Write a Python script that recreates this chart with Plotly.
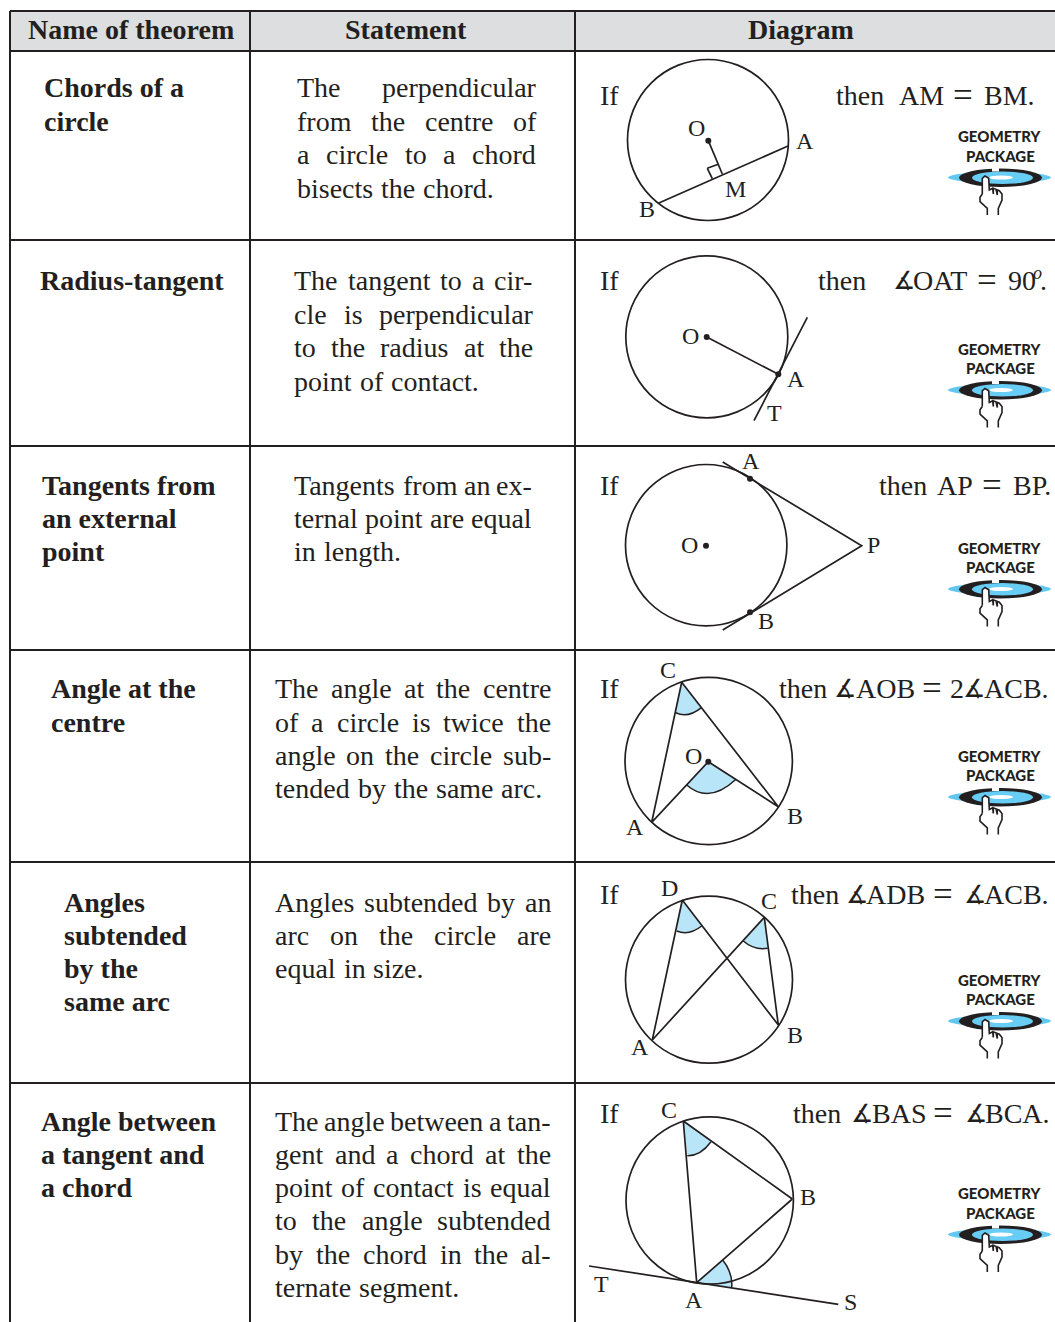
import plotly.graph_objects as go

INK = "#231f20"
SHADE = "#b9e5f8"
SERIF = "Liberation Serif"

# table text
HEADERS = ["Name of theorem", "Statement", "Diagram"]
HEADER_CENTRES = [131, 406, 801]
RULES_Y = [11, 51, 240, 446, 650, 862, 1083]
COLUMNS_X = [10, 250, 575]

NAMES = [
    ["Chords of a", "circle"],
    ["Radius-tangent"],
    ["Tangents from", "an external", "point"],
    ["Angle at the", "centre"],
    ["Angles", "subtended", "by the", "same arc"],
    ["Angle between", "a tangent and", "a chord"],
]
NAMES_X = [44, 40, 42, 51, 64, 41]
STATEMENTS = [
    ["The perpendicular", "from the centre of", "a circle to a chord", "bisects the chord."],
    ["The tangent to a cir-", "cle is perpendicular", "to the radius at the", "point of contact."],
    ["Tangents from an ex-", "ternal point are equal", "in length."],
    ["The angle at the centre", "of a circle is twice the", "angle on the circle sub-", "tended by the same arc."],
    ["Angles subtended by an", "arc on the circle are", "equal in size."],
    ["The angle between a tan-", "gent and a chord at the", "point of contact is equal",
     "to the angle subtended", "by the chord in the al-", "ternate segment."],
]
STATEMENTS_LEFT = [297, 294, 294, 275, 275, 275]
STATEMENTS_RIGHT = [536, 533, 532, 551, 551, 551]
LINES_Y = [
    [88, 122, 155, 189],
    [281, 315, 348, 382],
    [486, 519, 552],
    [689, 723, 756, 789],
    [903, 936, 969, 1002],
    [1122, 1155, 1188, 1221, 1255, 1288],
]
THEN_Y = [96, 281, 486, 689, 895, 1114]
THEN_WORDS = [
    ["then", "AM", "=", "BM."],
    ["then", "∡", "OAT", "=", "90", "."],
    ["then", "AP", "=", "BP."],
    ["then", "∡", "AOB", "=", "2", "∡", "ACB."],
    ["then", "∡", "ADB", "=", "∡", "ACB."],
    ["then", "∡", "BAS", "=", "∡", "BCA."],
]
THEN_X = [
    [836, 899, 953, 984],
    [818, 893, 913, 977, 1008, 1040],
    [879, 937, 982, 1013],
    [779, 834, 856, 922, 950, 963, 984],
    [791, 846, 866, 933, 964, 984],
    [793, 851, 872, 933, 965, 985],
]

# circles: centre x, centre y, radius
CIRCLES = [
    (708, 140, 80.5),
    (706.8, 336.8, 81),
    (706.2, 545.2, 80.7),
    (708.7, 761, 83.7),
    (709, 979.7, 83.5),
    (709.7, 1200.5, 83.7),
]

# straight segments of each diagram
SEGMENTS = [
    [(788, 146), (658.3, 203.3)],
    [(708.3, 140.7), (722.3, 174)],
    [(707.3, 168.3), (718.3, 164.3)],
    [(707.3, 168.3), (712.3, 178.7)],
    [(706.7, 337), (778.3, 374.3)],
    [(807.3, 317.3), (754, 420.7)],
    [(722.7, 462), (861.7, 545.7), (722.7, 630)],
    [(651.7, 822.3), (681.7, 682.3), (778.3, 806.7), (708.3, 761.7), (651.7, 822.3)],
    [(652.3, 1040), (682.3, 900), (778.3, 1025), (764.3, 917.3), (652.3, 1040)],
    [(792.3, 1199), (683.3, 1121), (696.7, 1282.7), (792.3, 1199)],
    [(589, 1266), (838.3, 1304.3)],
]
DOTS_X = [708.3, 706.7, 778.3, 706, 750, 750, 708.3]
DOTS_Y = [140.7, 337, 374.3, 545.7, 478.7, 612.3, 761.7]

# shaded angles: apex, start of arc, bend of arc, end of arc
ANGLES = [
    [(681.7, 682.3), (675.7, 712.7), (688, 718.6), (701.7, 707.3)],
    [(708.3, 761.7), (686.7, 785), (709, 804.6), (736, 779.3)],
    [(682.3, 900), (676.7, 931), (689, 936), (701.7, 926)],
    [(764.3, 917.3), (743.3, 941), (754.5, 950.7), (767.7, 948.3)],
    [(683.3, 1121), (687.3, 1155.7), (700.5, 1156), (711, 1141.7)],
    [(696.7, 1282.7), (722.7, 1260), (733, 1273), (731.7, 1287.3)],
]

LABELS = ["If", "O", "A", "M", "B",
          "If", "O", "A", "T",
          "If", "A", "B", "O", "P",
          "If", "C", "O", "A", "B",
          "If", "D", "C", "A", "B",
          "If", "C", "B", "T", "A", "S"]
LABELS_X = [609, 696, 805, 735, 647,
            609, 690, 796, 774,
            609, 751, 766, 689, 873,
            609, 668, 693, 635, 795,
            609, 669, 769, 640, 795,
            609, 669, 808, 601, 694, 850]
LABELS_Y = [96, 129, 142, 190, 210,
            281, 337, 380, 414,
            486, 462, 622, 546, 546,
            689, 671, 757, 828, 817,
            895, 889, 902, 1048, 1036,
            1114, 1111, 1198, 1285, 1301, 1303]

# "Geometry package" badge, one per row
BADGE_Y = [137, 349.5, 548.5, 756.5, 980.5, 1194]
HAND_X = [982.3, 982.3, 985, 988.7, 989.3, 992.7, 993.3, 993.3, 996, 997.3, 997.3, 999.3,
          1002, 1002, 998.3, 998.3, None, 987.3, 987.3, 980, 980, 982.3]
HAND_Y = [194, 178.3, 176, 178.3, 190, 188.3, 194, 188.3, 189.3, 195, 190, 190.7,
          194, 200, 208.3, 215, None, 215, 208.3, 201.7, 197.3, 194]

# Times advance widths, for spreading justified lines
TIMES = dict(a=444, b=500, c=444, d=500, e=444, f=333, g=500, h=500, i=278, j=278, k=500,
             l=278, m=778, n=500, o=500, p=500, q=500, r=333, s=389, t=278, u=500, v=500,
             w=722, x=500, y=500, z=444, T=611, A=722)
TIMES["-"] = 333
TIMES["."] = 250
BODY_SIZE = 28
LABEL_SIZE = 24


def word_width(word):
    return sum(TIMES[c] for c in word) * BODY_SIZE / 1000


def put_text(fig, x, y, text, size=BODY_SIZE, anchor="left", bold=False, family=SERIF, weight=None):
    font = dict(family=family, size=size, color=INK)
    if weight:
        font["weight"] = weight
    # rendered text sits about a pixel low, and a pixel right when left anchored
    fig.add_annotation(x=x - 1 if anchor == "left" else x, y=y - 1,
                       text=f"<b>{text}</b>" if bold else text, showarrow=False,
                       xanchor=anchor, yanchor="middle", borderpad=0, font=font)


def put_statement(fig, lines, ys, left, right):
    for i, (line, y) in enumerate(zip(lines, ys)):
        words = line.split(" ")
        widths = [word_width(w) for w in words]
        gap = (right - left - sum(widths)) / (len(words) - 1) if len(words) > 1 else 0
        # the last line of a paragraph is set ragged
        if i == len(lines) - 1:
            gap = min(gap, 8)
        x = left
        for word, width in zip(words, widths):
            put_text(fig, x, y, word)
            x += width + gap


def put_badge(fig, y):
    dy = y - BADGE_Y[0]
    put_text(fig, 1000, y, "GEOMETRY", size=15, anchor="center", family="Lato", weight=900)
    put_text(fig, 1000, y + 19.5, "PACKAGE", size=15, anchor="center", family="Lato", weight=900)
    fig.add_shape(type="circle", x0=948, x1=1051, y0=172 + dy, y1=183 + dy,
                  fillcolor="#62c8f0", line_width=0, layer="below")
    fig.add_shape(type="circle", x0=959, x1=1042, y0=168.5 + dy, y1=187 + dy,
                  fillcolor="#231f20", line_width=0, layer="below")
    fig.add_shape(type="circle", x0=972, x1=1033, y0=171.5 + dy, y1=184 + dy,
                  fillcolor="#68cdf5", line_width=0, layer="below")
    fig.add_shape(type="circle", x0=989, x1=1013, y0=175.5 + dy, y1=179.5 + dy,
                  fillcolor="white", line_width=0, layer="below")
    fig.add_shape(type="rect", x0=992, x1=999, y0=168 + dy, y1=171.5 + dy,
                  fillcolor="white", line_width=0, layer="below")
    hand_y = [v + dy if v is not None else None for v in HAND_Y]
    fig.add_trace(go.Scatter(x=HAND_X, y=hand_y, mode="lines", fill="toself", fillcolor="white",
                             line=dict(color=INK, width=1.6), hoverinfo="skip"))


fig = go.Figure()

# header band and rules
fig.add_shape(type="rect", x0=10, x1=1055, y0=RULES_Y[0], y1=RULES_Y[1],
              fillcolor="#dcdee0", line_width=0, layer="below")
for y in RULES_Y:
    fig.add_trace(go.Scatter(x=[10, 1055], y=[y, y], mode="lines",
                             line=dict(color=INK, width=2), hoverinfo="skip"))
for x in COLUMNS_X:
    fig.add_trace(go.Scatter(x=[x, x], y=[RULES_Y[0], 1322], mode="lines",
                             line=dict(color=INK, width=2), hoverinfo="skip"))

for text, x in zip(HEADERS, HEADER_CENTRES):
    put_text(fig, x, 30, text, size=28, anchor="center", bold=True)

for lines, x, ys in zip(NAMES, NAMES_X, LINES_Y):
    for line, y in zip(lines, ys):
        put_text(fig, x, y, line, bold=True)

for lines, ys, left, right in zip(STATEMENTS, LINES_Y, STATEMENTS_LEFT, STATEMENTS_RIGHT):
    put_statement(fig, lines, ys, left, right)

for words, xs, y in zip(THEN_WORDS, THEN_X, THEN_Y):
    for word, x in zip(words, xs):
        if word == "=":
            put_text(fig, x, y, word, size=35)
        elif word == "∡":
            put_text(fig, x, y, word, size=25, family="DejaVu Sans")
        else:
            put_text(fig, x, y, word)

# the raised italic o of 90 degrees
fig.add_annotation(x=1037, y=THEN_Y[1] - 8, text="<i>o</i>", showarrow=False, xanchor="center",
                   yanchor="middle", font=dict(family=SERIF, size=18, color=INK))

# shaded angles go under the lines
for apex, start, bend, end in ANGLES:
    arc = f"M {start[0]} {start[1]} Q {bend[0]} {bend[1]} {end[0]} {end[1]}"
    fig.add_shape(type="path", path=f"M {apex[0]} {apex[1]} L {arc[2:]} Z",
                  fillcolor=SHADE, line_width=0, layer="below")
    fig.add_shape(type="path", path=arc, line=dict(color=INK, width=1.5), layer="below")

for cx, cy, r in CIRCLES:
    fig.add_shape(type="circle", x0=cx - r, x1=cx + r, y0=cy - r, y1=cy + r,
                  line=dict(color=INK, width=1.7), layer="below")

for seg in SEGMENTS:
    fig.add_trace(go.Scatter(x=[p[0] for p in seg], y=[p[1] for p in seg], mode="lines",
                             line=dict(color=INK, width=1.7), hoverinfo="skip"))

fig.add_trace(go.Scatter(x=DOTS_X, y=DOTS_Y, mode="markers",
                         marker=dict(color=INK, size=6), hoverinfo="skip"))

for text, x, y in zip(LABELS, LABELS_X, LABELS_Y):
    size = BODY_SIZE if text == "If" else LABEL_SIZE
    put_text(fig, x, y, text, size=size, anchor="center")

for y in BADGE_Y:
    put_badge(fig, y)

fig.update_layout(width=1055, height=1322, margin=dict(l=0, r=0, t=0, b=0),
                  paper_bgcolor="white", plot_bgcolor="white", showlegend=False,
                  xaxis=dict(range=[0, 1055], visible=False, fixedrange=True),
                  yaxis=dict(range=[1322, 0], visible=False, fixedrange=True))

fig.write_html("out.html", config={"displayModeBar": False},
               post_script="document.body.style.margin='0';")
